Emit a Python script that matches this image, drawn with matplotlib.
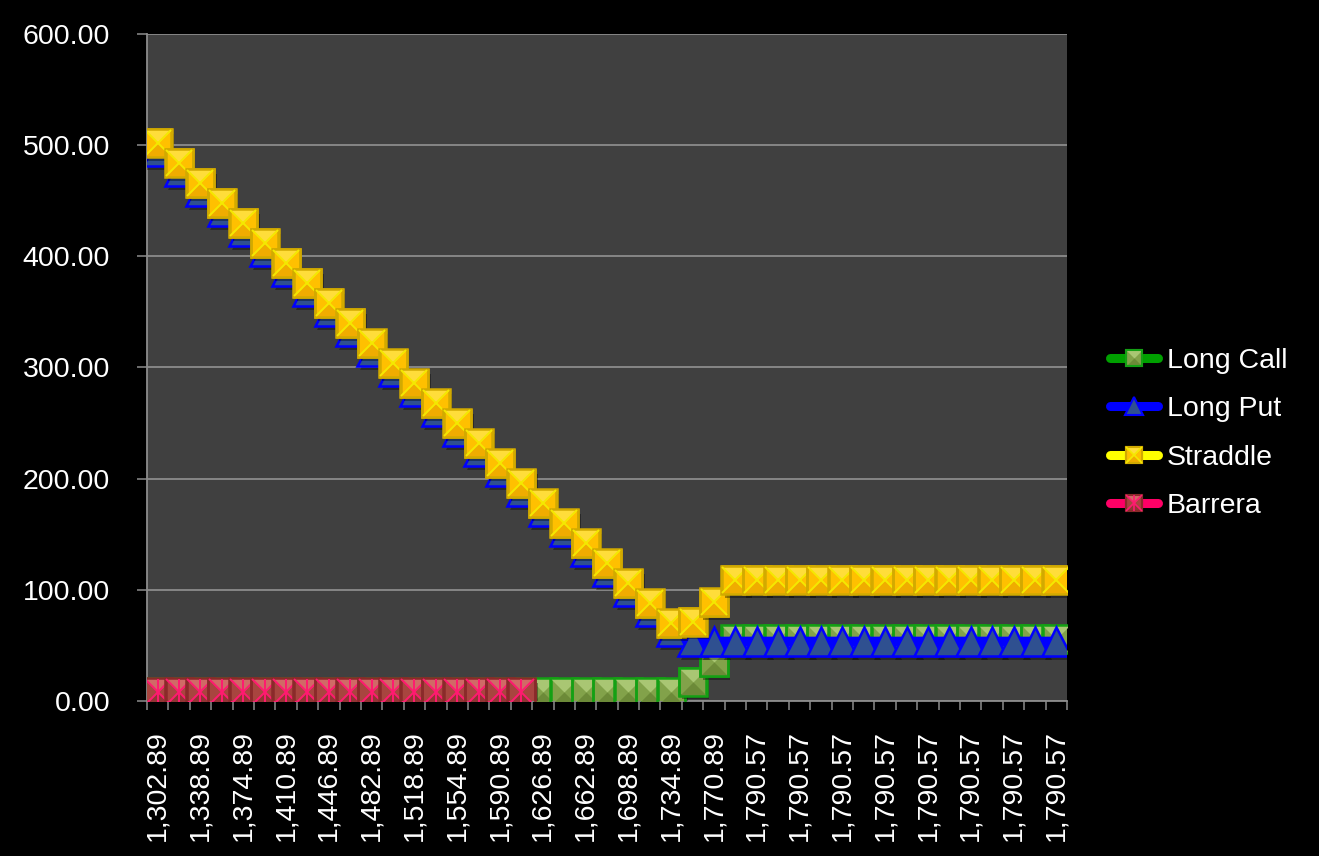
import matplotlib
matplotlib.use('Agg')
import matplotlib.pyplot as plt
import numpy as np
from matplotlib.lines import Line2D
from matplotlib.path import Path
from matplotlib.ticker import FormatStrFormatter, FixedLocator
import matplotlib.patheffects as pe

plt.rcParams['font.family'] = ['Liberation Sans', 'DejaVu Sans']

# ---------------- data ----------------
underlying = [1302.89, 1320.89, 1338.89, 1356.89, 1374.89, 1392.89, 1410.89, 1428.89,
              1446.89, 1464.89, 1482.89, 1500.89, 1518.89, 1536.89, 1554.89, 1572.89,
              1590.89, 1608.89, 1626.89, 1644.89, 1662.89, 1680.89, 1698.89, 1716.89,
              1734.89, 1752.89, 1770.89, 1788.89,
              1790.57, 1790.57, 1790.57, 1790.57, 1790.57, 1790.57, 1790.57, 1790.57,
              1790.57, 1790.57, 1790.57, 1790.57, 1790.57, 1790.57, 1790.57]

long_call = [8, 8, 8, 8, 8, 8, 8, 8, 8, 8, 8, 8, 8, 8, 8, 8, 8, 8, 8, 8, 8, 8, 8, 8, 8,
             17.5, 35,
             55.5, 55.5, 55.5, 55.5, 55.5, 55.5, 55.5, 55.5,
             55.5, 55.5, 55.5, 55.5, 55.5, 55.5, 55.5, 55.5]

long_put = [494, 476, 458, 440, 422, 404, 386, 368, 350, 332, 314, 296, 278, 260, 242,
            224, 206, 188, 170, 152, 134, 116, 98, 80, 62,
            53.5, 53.5, 53.5, 53.5, 53.5, 53.5, 53.5, 53.5, 53.5,
            53.5, 53.5, 53.5, 53.5, 53.5, 53.5, 53.5, 53.5, 53.5]

straddle = [502, 484, 466, 448, 430, 412, 394, 376, 358, 340, 322, 304, 286, 268, 250,
            232, 214, 196, 178, 160, 142, 124, 106, 88, 70,
            71.5, 89,
            109, 109, 109, 109, 109, 109, 109, 109,
            109, 109, 109, 109, 109, 109, 109, 109]

barrera = [8, 8, 8, 8, 8, 8, 8, 8, 8, 8, 8, 8, 8, 8, 8, 8, 8, 8] + [np.nan] * 25

series_names = ['Long Call', 'Long Put', 'Straddle', 'Barrera']
y_ticks = [0, 100, 200, 300, 400, 500, 600]

# ---------------- styles ----------------
W, H = 1319, 856
FS = 20.5
MS = 19.5
LW = 7

TOP_TRI = Path([(-0.5, 0.5), (0.5, 0.5), (0.0, 0.0), (-0.5, 0.5)],
               [Path.MOVETO, Path.LINETO, Path.LINETO, Path.CLOSEPOLY])
BOT_TRI = Path([(-0.5, -0.5), (0.5, -0.5), (0.0, 0.0), (-0.5, -0.5)],
               [Path.MOVETO, Path.LINETO, Path.LINETO, Path.CLOSEPOLY])

styles = {
    'Long Call': dict(line='#00a000', marker='s', face='#82a24a', top='#a9c673',
                      bot='#6c8a38', edge='#14a014', cross=[]),
    'Long Put': dict(line='#0000ff', marker='^', face='#2f5090', top=None,
                     bot=None, edge='#0000ff', cross=[]),
    'Straddle': dict(line='#ffff00', marker='s', face='#ffc000', top='#ffdd3a',
                     bot='#f0ac00', edge='#d2aa00', cross=['x']),
    'Barrera': dict(line='#ff0066', marker='s', face='#a8453f', top='#d06a66',
                    bot='#923434', edge='#8a2a2a', cross=['x', '|']),
}
cross_col = {'Straddle': '#f4e800', 'Barrera': '#ff1a70'}

fig = plt.figure(figsize=(W / 100, H / 100), dpi=100, facecolor='black')
ax = fig.add_axes([147 / W, 1 - 701 / H, (1067 - 147) / W, (701 - 34) / H])
ax.set_facecolor('#404040')

x = np.arange(len(underlying))
shadow = [pe.SimplePatchShadow(offset=(2, -3), shadow_rgbFace='black', alpha=0.35), pe.Normal()]

all_series = [long_call, long_put, straddle, barrera]
for k, (name, vals) in enumerate(zip(series_names, all_series)):
    st = styles[name]
    zb = 3 + k
    ax.plot(x, vals, color=st['line'], lw=LW, solid_capstyle='round', zorder=zb)
    for i, v in enumerate(vals):
        if np.isnan(v):
            continue
        z = zb + 0.01 + i * 0.01
        ms = MS + (1 if st['marker'] == '^' else 0)
        ax.plot([x[i]], [v], ls='none', marker=st['marker'], ms=ms, mfc=st['face'],
                mec=st['edge'], mew=1.8, zorder=z, path_effects=shadow)
        if st['top'] is not None:
            ax.plot([x[i]], [v], ls='none', marker=TOP_TRI, ms=ms, mfc=st['top'],
                    mew=0, zorder=z + 0.001)
            ax.plot([x[i]], [v], ls='none', marker=BOT_TRI, ms=ms, mfc=st['bot'],
                    mew=0, zorder=z + 0.002)
            ax.plot([x[i]], [v], ls='none', marker='s', ms=ms, mfc='none',
                    mec=st['edge'], mew=1.8, zorder=z + 0.003)
        for c in st['cross']:
            ax.plot([x[i]], [v], ls='none', marker=c, ms=ms - 1, mec=cross_col[name],
                    mew=1.4, zorder=z + 0.004)

# axes
ax.set_xlim(-0.5, len(underlying) - 0.5)
ax.set_ylim(0, 600)
ax.set_yticks(y_ticks)
ax.yaxis.set_major_formatter(FormatStrFormatter('%.2f'))
ax.grid(axis='y', color='#8c8c8c', lw=1.3, zorder=1)
ax.set_axisbelow(True)

label_pos = x[::2]
ax.set_xticks(label_pos)
ax.set_xticklabels([f'{underlying[i]:,.2f}' for i in label_pos], rotation=90,
                   va='top', ha='center')
ax.xaxis.set_minor_locator(FixedLocator(np.arange(-0.5, len(underlying), 1.0)))
ax.tick_params(axis='x', which='major', length=0, pad=21, labelsize=FS, labelcolor='white')
ax.tick_params(axis='x', which='minor', length=6.5, width=1.1, color='#8c8c8c')
ax.tick_params(axis='y', which='major', length=7, width=1.1, color='#8c8c8c',
               pad=19.5, labelsize=FS, labelcolor='white')

for s in ['top', 'right']:
    ax.spines[s].set_visible(False)
for s in ['left', 'bottom']:
    ax.spines[s].set_color('#8c8c8c')
    ax.spines[s].set_linewidth(1.3)

# legend
LMS = 12


def legend_handle(name):
    st = styles[name]
    ms = LMS + (1 if st['marker'] == '^' else 0)
    parts = [Line2D([], [], color=st['line'], lw=6.5, solid_capstyle='round',
                    marker=st['marker'], ms=ms, mfc=st['face'], mec=st['edge'], mew=1.5)]
    if st['top'] is not None:
        parts.append(Line2D([], [], ls='none', marker=TOP_TRI, ms=ms, mfc=st['top'], mew=0))
        parts.append(Line2D([], [], ls='none', marker=BOT_TRI, ms=ms, mfc=st['bot'], mew=0))
        parts.append(Line2D([], [], ls='none', marker='s', ms=ms, mfc='none',
                            mec=st['edge'], mew=1.5))
    for c in st['cross']:
        parts.append(Line2D([], [], ls='none', marker=c, ms=ms - 1, mec=cross_col[name], mew=1.2))
    return tuple(parts)


leg = fig.legend([legend_handle(n) for n in series_names], series_names,
                 loc='center left', bbox_to_anchor=(1109.5 / W, 1 - 433.5 / H),
                 frameon=False, fontsize=FS, labelcolor='white',
                 handlelength=1.72, handletextpad=0.3, labelspacing=0.79,
                 borderpad=0, borderaxespad=0)

fig.savefig('out.png', dpi=100, facecolor='black')
